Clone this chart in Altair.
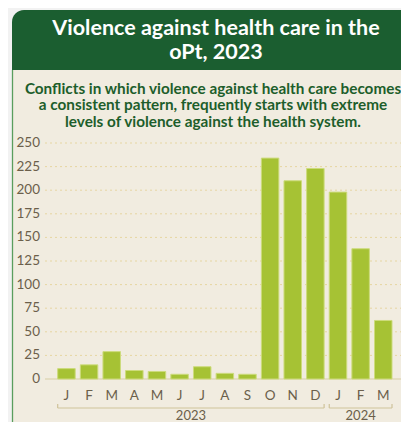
import altair as alt
import pandas as pd

# ---- data ----
MONTH_KEYS = ["2023-01", "2023-02", "2023-03", "2023-04", "2023-05", "2023-06",
              "2023-07", "2023-08", "2023-09", "2023-10", "2023-11", "2023-12",
              "2024-01", "2024-02", "2024-03"]
MONTH_LABELS = ["J", "F", "M", "A", "M", "J", "J", "A", "S", "O", "N", "D", "J", "F", "M"]
VALUES = [11, 15, 29, 9, 8, 5, 13, 6, 5, 234, 210, 223, 198, 138, 62]
Y_TICKS = [0, 25, 50, 75, 100, 125, 150, 175, 200, 225, 250]
YEARS = ["2023", "2024"]
YEAR_START = ["2023-01", "2024-01"]
YEAR_END = ["2023-12", "2024-03"]
YEAR_CENTER = ["2023-06", "2024-02"]

TITLE_LINES = ["Violence against health care in the", "oPt, 2023"]
SUBTITLE_LINES = ["Conflicts in which violence against health care becomes",
                  "a consistent pattern, frequently starts with extreme",
                  "levels of violence against the health system."]

# ---- styling ----
FONT = "Lato"
HEADER = "#1b5e30"
BODY = "#f1ece0"
OUTER = "#f2f2f2"
BAR = "#a6c234"
BAR_STROKE = "#cddb7c"
LABEL = "#6b5f4b"
SUB = "#1d5e2b"
W, H = 393, 414

bars_df = pd.DataFrame({"key": MONTH_KEYS, "label": MONTH_LABELS, "value": VALUES})
ticks_df = pd.DataFrame({"tick": Y_TICKS})
years_df = pd.DataFrame({"year": YEARS, "start": YEAR_START, "end": YEAR_END, "center": YEAR_CENTER})
one = pd.DataFrame({"a": [0]})

xscale = alt.Scale(domain=MONTH_KEYS, range=[49.7, 384.0], paddingInner=0.227, paddingOuter=0)
yscale = alt.Scale(domain=[0, 250], range=[371, 135], nice=False, zero=True)

def X(field, **kw):
    return alt.X(f"{field}:N", scale=xscale, axis=None, sort=None, **kw)

def Y(field):
    return alt.Y(f"{field}:Q", scale=yscale, axis=None)

body = alt.Chart(one).mark_rect(fill=BODY).encode(
    x=alt.value(4), x2=alt.value(440), y=alt.value(62), y2=alt.value(440))
left_line = alt.Chart(one).mark_rule(color="#5a9e5e", strokeWidth=1.3).encode(
    x=alt.value(4.5), y=alt.value(62), y2=alt.value(440))
header = alt.Chart(one).mark_rect(fill=HEADER, cornerRadiusTopLeft=12, cornerRadiusTopRight=12).encode(
    x=alt.value(4), x2=alt.value(440), y=alt.value(2), y2=alt.value(62))

layers = [body, left_line, header]

for i, line in enumerate(TITLE_LINES):
    layers.append(alt.Chart(one).mark_text(
        text=line, font=FONT, fontWeight="bold", fontSize=21.5, color="white",
        align="center", baseline="middle").encode(
        x=alt.value(208), y=alt.value(20.5 + i * 24)))

for i, line in enumerate(SUBTITLE_LINES):
    layers.append(alt.Chart(one).mark_text(
        text=line, font=FONT, fontWeight="bold", fontSize=15.3, color=SUB,
        align="center", baseline="middle").encode(
        x=alt.value(205), y=alt.value(80.5 + i * 16.7)))

grid = alt.Chart(ticks_df).transform_filter("datum.tick > 0").mark_rule(
    color="#e6d6a2", strokeDash=[2, 3], strokeWidth=1).encode(
    y=Y("tick"), x=alt.value(37), x2=alt.value(401))
baseline = alt.Chart(ticks_df).transform_filter("datum.tick == 0").mark_rule(
    color="#d8cda4", strokeWidth=1.2).encode(
    y=Y("tick"), x=alt.value(37), x2=alt.value(396))
ylabels = alt.Chart(ticks_df).mark_text(
    font=FONT, fontSize=13.5, color=LABEL, align="right", baseline="middle").encode(
    y=Y("tick"), x=alt.value(32), text="tick:Q")

barlayer = alt.Chart(bars_df).mark_bar(color=BAR, stroke=BAR_STROKE, strokeWidth=1).encode(
    x=X("key"), y=Y("value"))

mlabels = alt.Chart(bars_df).mark_text(
    font=FONT, fontSize=13.5, color=LABEL, align="center", baseline="middle").encode(
    x=X("key"), y=alt.value(387.5), text="label:N")

brackets = alt.Chart(years_df).mark_rule(color="#cfc39a", strokeWidth=1.2).encode(
    x=X("start", bandPosition=0), x2=alt.X2("end", bandPosition=1), y=alt.value(400))
lticks = alt.Chart(years_df).mark_rule(color="#cfc39a", strokeWidth=1.2).encode(
    x=X("start", bandPosition=0), y=alt.value(396), y2=alt.value(400))
rticks = alt.Chart(years_df).mark_rule(color="#cfc39a", strokeWidth=1.2).encode(
    x=X("end", bandPosition=1), y=alt.value(396), y2=alt.value(400))

ylab23 = alt.Chart(years_df).transform_filter("datum.year == '2023'").mark_text(
    font=FONT, fontSize=13, color=LABEL, align="center", baseline="middle", dx=2.6).encode(
    x=X("center", bandPosition=1), y=alt.value(407.5), text="year:N")
ylab24 = alt.Chart(years_df).transform_filter("datum.year == '2024'").mark_text(
    font=FONT, fontSize=13, color=LABEL, align="center", baseline="middle").encode(
    x=X("center", bandPosition=0.5), y=alt.value(407.5), text="year:N")

layers += [grid, baseline, ylabels, barlayer, mlabels, brackets, lticks, rticks, ylab23, ylab24]

chart = alt.layer(*layers).properties(
    width=W, height=H, background=OUTER, padding=0,
    autosize=alt.AutoSizeParams(type="none")
).configure_view(stroke=None)

chart.save("out.html", embed_options={"renderer": "svg", "actions": False})
